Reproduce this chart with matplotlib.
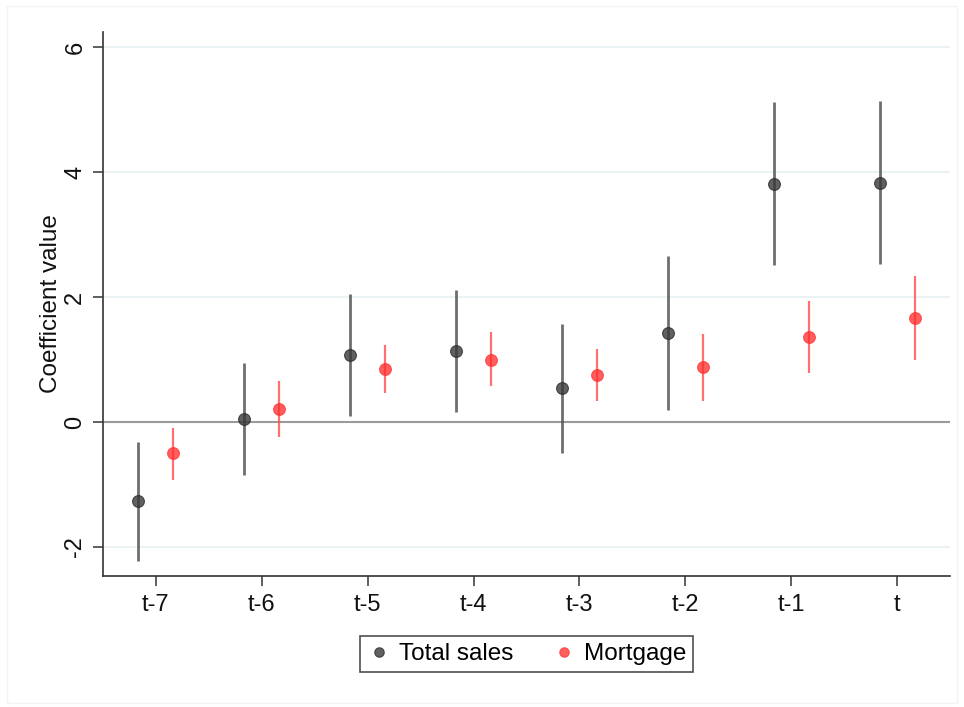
import matplotlib
matplotlib.use("Agg")
import matplotlib.pyplot as plt
from matplotlib.patches import Rectangle
import numpy as np

plt.rcParams['font.family'] = ['Liberation Sans', 'DejaVu Sans']

periods = ["t-7", "t-6", "t-5", "t-4", "t-3", "t-2", "t-1", "t"]

# Total sales: point estimates and 95% confidence bounds
sales_coef = [-1.27, 0.05, 1.07, 1.14, 0.54, 1.43, 3.81, 3.82]
sales_lo = [-2.22, -0.84, 0.10, 0.16, -0.50, 0.19, 2.51, 2.53]
sales_hi = [-0.32, 0.94, 2.05, 2.11, 1.57, 2.66, 5.12, 5.14]

# Mortgage: point estimates and 95% confidence bounds
mort_coef = [-0.50, 0.21, 0.85, 1.00, 0.75, 0.885, 1.365, 1.66]
mort_lo = [-0.92, -0.24, 0.46, 0.58, 0.34, 0.34, 0.79, 0.99]
mort_hi = [-0.09, 0.66, 1.23, 1.44, 1.17, 1.41, 1.94, 2.33]

yticks = [-2, 0, 2, 4, 6]

fig = plt.figure(figsize=(9.64, 7.07), dpi=100)
fig.patches.append(Rectangle((7 / 964, 0.005), 1 - 14 / 964, 1 - 6 / 707 - 0.005,
                             transform=fig.transFigure, fill=False,
                             edgecolor="#f4f4f4", linewidth=1.0, zorder=0))
ax = fig.add_axes([103 / 964, 1 - 576 / 707, (950 - 103) / 964, (576 - 32) / 707])

x = np.arange(len(periods))
off = 0.165

black = "#3a3a3a"
red = "#ff2a2a"

ax.vlines(x - off, sales_lo, sales_hi, color="#555555", linewidth=2.0, alpha=0.85, zorder=3)
ax.plot(x - off, sales_coef, "o", color=black, markersize=8.5, alpha=0.8,
        markeredgewidth=0.8, markeredgecolor="#2a2a2a", zorder=4, label="Total sales")
ax.vlines(x + off, mort_lo, mort_hi, color="#ff4d4d", linewidth=1.6, alpha=0.8, zorder=3)
ax.plot(x + off, mort_coef, "o", color=red, markersize=8.5, alpha=0.75,
        markeredgewidth=0.8, markeredgecolor="#ff3030", zorder=4, label="Mortgage")

ax.axhline(0, color="#9a9a9a", linewidth=1.5, zorder=2)
for yv in yticks:
    if yv != 0:
        ax.axhline(yv, color="#e8f0f2", linewidth=1.2, zorder=1)

ax.set_xlim(-0.5, 7.5)
ax.set_ylim(-2.464, 6.24)
ax.set_xticks(x)
ax.set_xticklabels(periods)
ax.set_yticks(yticks)
ax.set_yticklabels([str(v) for v in yticks], rotation=90, va="center")

for side in ("top", "right"):
    ax.spines[side].set_visible(False)
for side in ("left", "bottom"):
    ax.spines[side].set_color("#333333")
    ax.spines[side].set_linewidth(1.2)

ax.tick_params(axis="both", length=7, width=1.2, color="#444444",
               labelsize=17, labelcolor="#111111")
ax.tick_params(axis="y", pad=5)
ax.tick_params(axis="x", pad=6)

ax.set_ylabel("Coefficient value", fontsize=17.5, color="#111111", labelpad=2)

leg = fig.legend(loc="center", bbox_to_anchor=(526.5 / 964, 1 - 654 / 707),
                 ncol=2, fontsize=17.5, frameon=True, fancybox=False,
                 edgecolor="#222222", handletextpad=0.3, columnspacing=1.6,
                 borderpad=0.3, handlelength=1.0, markerscale=0.8)
leg.get_frame().set_linewidth(1.2)

fig.savefig("out.png", dpi=100)
